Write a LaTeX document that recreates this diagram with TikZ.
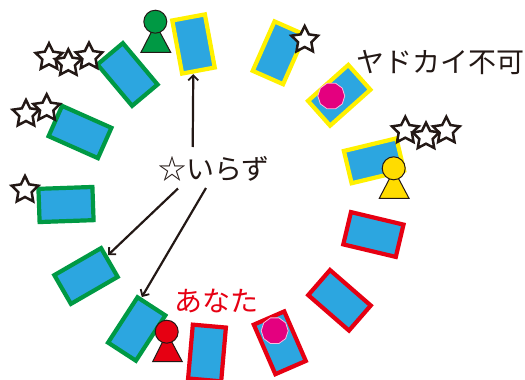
\documentclass[tikz,border=0pt]{standalone}
\usepackage{fontspec}
\newfontfamily\jpfont{Noto Sans CJK JP}
\usetikzlibrary{shapes.geometric,arrows.meta,calc}
\definecolor{cardblue}{HTML}{2CA6E0}
\definecolor{cgreen}{HTML}{009944}
\definecolor{cyellow}{HTML}{FFF100}
\definecolor{cred}{HTML}{E60012}
\definecolor{pawny}{HTML}{FFDC00}
\definecolor{cpink}{HTML}{E4007F}
\definecolor{ink}{HTML}{231815}
\tikzset{
  x=1pt,y=-1pt,
  card/.style={draw=#1,fill=cardblue,line width=4.2pt,minimum width=33.2pt,minimum height=54pt,inner sep=0pt,outer sep=2.1pt,rectangle},
  starmark/.style={star,star points=5,star point ratio=2.0,minimum size=28pt,inner sep=0pt,draw=ink,fill=white,line width=2.5pt},
  chip/.style={regular polygon,regular polygon sides=10,minimum size=27pt,inner sep=0pt,fill=cpink,draw=white!75!cpink,line width=0.8pt},
  pawnhead/.style={circle,minimum size=23pt,inner sep=0pt,draw=ink,line width=1pt,fill=#1},
  pawnbody/.style={draw=ink,line width=1pt,fill=#1,line join=miter},
  arr/.style={draw=ink,line width=2.2pt,-{Straight Barb[length=5pt,width=10pt,line width=1.8pt]},shorten >=0.5pt},
  lab/.style={font=\jpfont\fontsize{28}{28}\selectfont,text=#1,inner sep=0pt}
}
\begin{document}
\begin{tikzpicture}
\useasboundingbox (0,0) rectangle (525,380);
% cards
\node[card=cyellow,rotate=10.5] (y1) at (193.5,44) {};
\node[card=cgreen,rotate=40] (g1) at (127.5,74.5) {};
\node[card=cgreen,rotate=66] (g2) at (80,132) {};
\node[card=cgreen,rotate=92] (g3) at (66,204.5) {};
\node[card=cgreen,rotate=120] (g4) at (86,276) {};
\node[card=cgreen,rotate=147] (g5) at (136.7,329) {};
\node[card=cred,rotate=-5] (r1) at (207,353) {};
\node[card=cred,rotate=23.5] (r2) at (279.8,342.8) {};
\node[card=cred,rotate=49] (r3) at (339.5,300.3) {};
\node[card=cred,rotate=76.6] (r4) at (373.4,234.5) {};
\node[card=cyellow,rotate=103.5] (y4) at (374,160.8) {};
\node[card=cyellow,rotate=131.7] (y3) at (339.2,95.3) {};
\node[card=cyellow,rotate=-23.8] (y2) at (278.8,52.8) {};
% chips
\node[chip] (c1) at (331.3,96) {};
\node[chip] (c2) at (274.7,330.7) {};
% stars
\node[starmark] (s11) at (49,57.3) {};
\node[starmark] (s12) at (68.3,63.3) {};
\node[starmark] (s13) at (89,56.7) {};
\node[starmark] (s21) at (26,114) {};
\node[starmark] (s22) at (46.7,108.3) {};
\node[starmark] (s31) at (25,190) {};
\node[starmark] (s41) at (304.7,40) {};
\node[starmark] (s51) at (405.3,130.7) {};
\node[starmark] (s52) at (426,136.7) {};
\node[starmark] (s53) at (446.3,130.7) {};
% pawns
\draw[pawnbody=cgreen] (141,52.3) -- (155.5,24) -- (170.7,52.3) -- cycle;
\node[pawnhead=cgreen] (pg) at (155.3,21.7) {};
\draw[pawnbody=pawny] (379.3,198.3) -- (394,170) -- (409,198.3) -- cycle;
\node[pawnhead=pawny] (py) at (393.7,168.3) {};
\draw[pawnbody=cred] (152.7,361.7) -- (167,333) -- (182.3,361.7) -- cycle;
\node[pawnhead=cred] (pr) at (166.7,331.7) {};
% labels
\node[lab=ink] (no) at (214,169) {☆いらず};
\node[lab=ink] (inn) at (440,62) {ヤドカイ不可};
\node[lab=cred] (you) at (216,301) {あなた};
% connectors
\coordinate (a1) at (192.7,147);
\coordinate (a2) at (178,188.5);
\coordinate (a3) at (206,188);
\draw[arr] (a1) -- (y1);
\draw[arr] (a2) -- (g4);
\draw[arr] (a3) -- ($(g5.south east)!0.15!(g5.south west)$);
\end{tikzpicture}
\end{document}
